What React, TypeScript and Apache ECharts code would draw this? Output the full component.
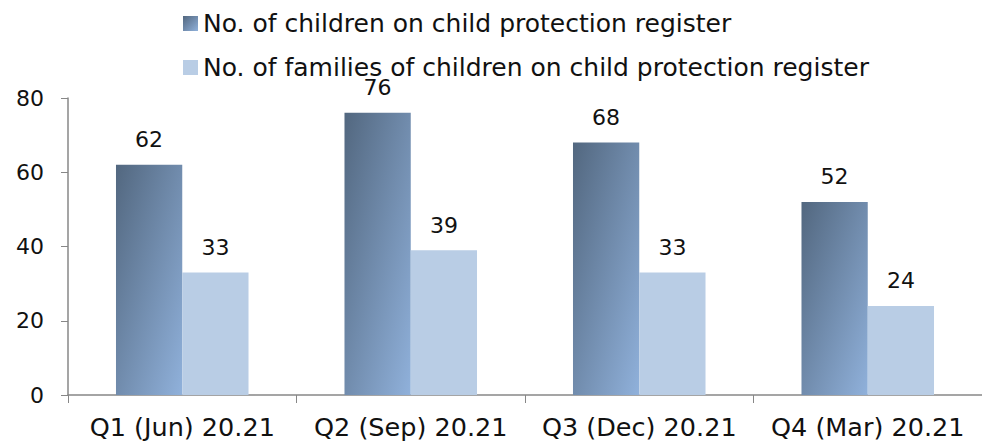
import React, { useEffect, useRef } from "react";
import * as echarts from "echarts";

const categories = ["Q1 (Jun) 20.21", "Q2 (Sep) 20.21", "Q3 (Dec) 20.21", "Q4 (Mar) 20.21"];
const childrenValues = [62, 76, 68, 52];
const familiesValues = [33, 39, 33, 24];
const seriesNames = [
  "No. of children on child protection register",
  "No. of families of children on child protection register",
];

const FONT = "DejaVu Sans";

export default function App() {
  const ref = useRef<HTMLDivElement>(null);
  useEffect(() => {
    if (!ref.current) return;
    const chart = echarts.init(ref.current, undefined, { renderer: "svg" });
    const darkGrad = new echarts.graphic.LinearGradient(0, 0, 1, 1, [
      { offset: 0, color: "#52677f" },
      { offset: 1, color: "#90b1db" },
    ]);
    chart.setOption({
      animation: false,
      textStyle: { fontFamily: FONT },
      legend: {
        orient: "vertical",
        left: 178,
        top: 6,
        itemWidth: 15,
        itemHeight: 15,
        itemGap: 19,
        icon: "rect",
        textStyle: { fontFamily: FONT, fontSize: 25, color: "#111" },
        data: seriesNames,
      },
      grid: { left: 68, right: 0, top: 98, bottom: 48 },
      xAxis: {
        type: "category",
        data: categories,
        axisLine: { lineStyle: { color: "#878787", width: 1.5 } },
        axisTick: { show: true, length: 8, lineStyle: { color: "#878787" } },
        axisLabel: { interval: 0, fontFamily: FONT, fontSize: 25.5, color: "#111", margin: 19 },
      },
      yAxis: {
        type: "value",
        min: 0,
        max: 80,
        interval: 20,
        axisLine: { show: true, lineStyle: { color: "#878787", width: 1.5 } },
        axisTick: { show: true, length: 7, lineStyle: { color: "#878787" } },
        splitLine: { show: false },
        axisLabel: { fontFamily: FONT, fontSize: 22, color: "#111", margin: 24 },
      },
      series: [
        {
          name: seriesNames[0],
          type: "bar",
          data: childrenValues,
          barGap: "0%",
          barCategoryGap: "42%",
          itemStyle: { color: darkGrad },
          label: { show: true, position: "top", distance: 14, fontFamily: FONT, fontSize: 22, color: "#111" },
        },
        {
          name: seriesNames[1],
          type: "bar",
          data: familiesValues,
          itemStyle: { color: "#b9cde5" },
          label: { show: true, position: "top", distance: 14, fontFamily: FONT, fontSize: 22, color: "#111" },
        },
      ],
    });
    return () => chart.dispose();
  }, []);
  return <div ref={ref} style={{ width: 982, height: 443, position: "absolute", left: 0, top: 0 }} />;
}
